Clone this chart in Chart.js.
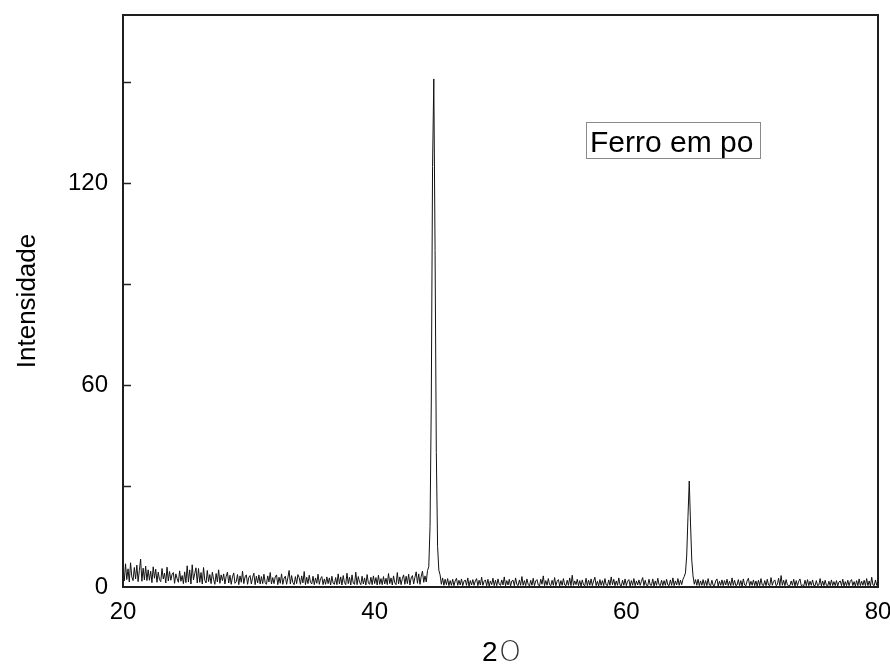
<!DOCTYPE html>
<html>
<head>
<meta charset="utf-8">
<script src="https://cdn.jsdelivr.net/npm/chart.js@4"></script>
<style>
  html, body { margin: 0; padding: 0; background: #fff; }
  #wrap { width: 890px; height: 664px; }
</style>
</head>
<body>
<div id="wrap"><canvas id="chart1" width="890" height="664"></canvas></div>
<script>
// 2-theta grid: 20 to 80, step 0.1
const thetaStart = 20;
const thetaStep = 0.1;

// intensities, one row per degree (10 readings each)
const intensidade = [
  4.5,1.8,6.9,2.2,5.4,1.5,7.2,3.0,1.9,5.8,   // 20
  2.4,6.5,1.6,4.9,8.3,1.7,5.6,2.1,6.2,1.9,   // 21
  5.1,2.0,4.7,1.3,6.0,2.6,5.3,1.4,4.4,2.2,   // 22
  1.6,5.5,2.4,4.1,1.2,5.9,1.8,4.6,2.0,3.8,   // 23
  4.3,1.1,3.9,2.5,1.4,4.8,1.7,3.4,1.0,4.5,   // 24
  1.3,6.3,1.5,5.1,0.9,6.6,2.1,4.0,5.7,1.2,   // 25
  5.5,1.4,4.3,0.9,5.8,2.0,1.2,4.9,1.6,3.7,   // 26
  1.0,4.4,2.3,0.8,4.0,1.5,5.1,1.1,3.6,1.9,   // 27
  3.9,0.9,3.2,4.4,1.2,3.5,0.8,3.0,4.2,1.1,   // 28
  1.6,3.7,0.7,3.3,1.4,4.7,1.0,3.0,3.6,0.8,   // 29
  2.9,3.4,0.9,2.8,4.1,0.7,3.2,1.2,3.6,0.9,   // 30
  3.1,1.0,3.8,1.3,0.8,3.3,1.5,4.3,0.9,2.8,   // 31
  1.0,3.0,3.6,0.7,2.9,1.1,3.9,0.8,2.6,3.2,   // 32
  0.8,2.7,4.9,0.9,3.4,1.3,0.7,3.1,1.0,3.7,   // 33
  2.8,0.8,3.3,1.2,4.6,0.7,2.9,1.0,3.5,1.4,   // 34
  0.9,3.2,0.7,2.7,1.1,3.8,0.8,2.5,3.1,0.7,   // 35
  2.4,0.8,3.0,1.0,2.7,0.6,3.2,1.1,0.8,2.8,   // 36
  0.7,3.9,0.9,3.0,0.6,3.4,1.3,0.7,4.1,1.0,   // 37
  2.9,0.6,3.6,1.1,0.8,4.4,0.7,3.1,1.4,0.7,   // 38
  3.2,0.9,2.7,0.6,3.7,1.2,0.8,2.9,0.7,3.3,   // 39
  1.0,2.8,0.6,3.5,0.8,2.5,0.7,3.1,0.9,2.6,   // 40
  0.7,4.0,1.0,2.7,0.6,3.3,1.2,0.7,4.3,0.9,   // 41
  3.0,0.7,2.5,3.6,0.8,3.2,1.0,3.8,0.6,2.7,   // 42
  3.4,0.9,2.9,4.5,1.1,3.9,0.8,3.2,4.7,1.4,   // 43
  3.3,1.5,4.9,6.0,18,55,125,151,100,40,      // 44 (110 peak)
  12,5.0,3.6,0.8,2.7,0.5,2.3,0.7,2.5,0.4,    // 45
  1.9,0.5,2.3,0.4,1.8,2.6,0.5,2.0,0.6,2.4,   // 46
  0.4,1.7,2.1,0.5,2.7,0.3,1.9,0.6,2.2,0.5,   // 47
  1.8,2.5,0.4,2.0,0.6,2.9,0.5,1.7,2.1,0.4,   // 48
  2.3,0.3,1.8,0.7,2.6,0.4,2.0,0.4,2.4,0.8,   // 49
  0.5,2.1,0.6,3.0,0.4,1.9,0.6,2.3,0.3,1.8,   // 50
  2.0,0.4,2.7,0.7,0.4,2.1,0.5,3.1,0.5,1.9,   // 51
  0.4,2.4,0.8,0.3,2.0,0.5,2.6,0.4,1.8,2.2,   // 52
  0.6,0.3,2.3,0.8,3.3,0.4,1.9,0.5,2.5,0.7,   // 53
  0.4,2.0,0.5,2.8,0.4,1.7,2.2,0.3,1.9,0.5,   // 54
  2.5,0.6,0.4,2.0,0.5,2.7,0.4,3.5,0.5,1.8,   // 55
  0.7,2.3,0.4,1.9,0.3,2.1,0.6,0.4,2.6,0.4,   // 56
  2.0,0.5,2.4,0.4,1.8,2.9,0.4,1.7,0.3,2.2,   // 57
  0.5,1.9,0.4,2.5,0.6,0.4,2.1,0.5,3.0,0.7,   // 58
  2.3,0.4,1.8,0.5,2.7,0.6,0.3,2.0,0.5,2.4,   // 59
  0.4,1.7,2.2,0.3,1.9,0.5,2.5,0.4,1.8,0.6,   // 60
  2.1,0.5,1.7,2.8,0.4,2.0,0.5,0.4,2.3,0.6,   // 61
  0.5,2.4,0.3,1.8,0.5,2.6,0.7,0.4,2.0,0.4,   // 62
  1.9,0.5,2.3,0.6,0.4,2.1,0.5,2.7,0.4,1.8,   // 63
  0.6,2.5,0.5,2.0,0.7,2.3,3.1,4.2,9.5,21,    // 64
  31.5,19,8.0,3.3,0.8,2.2,0.5,2.3,0.4,1.8,   // 65 (200 peak)
  0.5,2.2,0.4,1.9,0.4,2.5,0.6,0.4,2.0,0.5,   // 66
  0.4,1.8,2.4,0.3,1.7,0.5,2.1,0.4,1.9,0.6,   // 67
  2.3,0.4,1.7,0.4,2.7,0.5,2.0,0.4,0.6,2.2,   // 68
  0.4,1.9,0.3,2.4,0.6,0.4,1.8,2.6,0.4,1.7,   // 69
  0.5,2.1,0.4,1.8,0.3,2.0,0.4,2.5,0.6,0.4,   // 70
  1.9,0.4,2.3,0.6,0.4,2.8,0.5,1.7,2.1,0.4,   // 71
  0.7,2.6,0.4,3.4,0.5,2.0,0.4,2.2,0.6,0.4,   // 72
  0.4,1.8,0.5,2.3,0.3,1.9,0.4,1.7,2.4,0.4,   // 73
  0.6,0.3,2.0,0.4,2.2,0.4,1.7,0.5,2.1,0.4,   // 74
  0.4,1.9,0.4,0.6,2.5,0.3,1.8,0.4,2.0,0.5,   // 75
  0.3,1.7,0.4,2.1,0.4,1.6,0.4,1.9,0.3,1.5,   // 76
  1.8,0.4,2.3,0.3,1.6,0.4,2.0,0.4,1.7,2.2,   // 77
  0.4,1.6,0.3,1.9,0.4,2.4,0.4,1.7,0.5,2.0,   // 78
  0.4,2.5,0.4,1.8,0.3,2.9,0.6,0.4,2.1,0.5,   // 79
  1.7                                        // 80
];

const xTicks = [20, 40, 60, 80];
const yLabelTicks = [0, 60, 120];
const legendText = 'Ferro em po';
const yTitle = 'Intensidade';

const FONT = "'Liberation Sans', Arial, sans-serif";

// build points for the line
const pontos = intensidade.map(function(v, i) {
    return { x: +(thetaStart + i * thetaStep).toFixed(2), y: v };
});

// frame, inward ticks, label box and x title
const extras = {
    id: 'extras',
    afterDraw(chart) {
        const ctx = chart.ctx;
        const a = chart.chartArea;
        const ys = chart.scales.y;
        ctx.save();

        // inward ticks on left axis
        ctx.strokeStyle = '#222';
        ctx.lineWidth = 1.5;
        ys.ticks.forEach(function(t) {
            if (t.value > 0 && t.value % 30 === 0) {
                const py = Math.round(ys.getPixelForValue(t.value)) + 0.5;
                ctx.beginPath();
                ctx.moveTo(a.left, py);
                ctx.lineTo(a.left + 8, py);
                ctx.stroke();
            }
        });

        // frame
        ctx.lineWidth = 2;
        ctx.strokeStyle = '#1e1e1e';
        ctx.strokeRect(a.left, a.top, a.right - a.left, a.bottom - a.top);

        // label box
        ctx.lineWidth = 1;
        ctx.strokeStyle = '#8a8a8a';
        ctx.strokeRect(586.5, 122.5, 174, 36);
        ctx.fillStyle = '#000';
        ctx.font = '30px ' + FONT;
        ctx.textBaseline = 'alphabetic';
        ctx.textAlign = 'left';
        ctx.fillText(legendText, 590, 152);

        // x title "2O"
        ctx.font = '28px ' + FONT;
        ctx.fillText('2', 482, 661);
        ctx.font = "200 28px 'DejaVu Sans', sans-serif";
        ctx.fillStyle = '#333';
        ctx.fillText('O', 499, 661);

        ctx.restore();
    }
};

const ctx1 = document.getElementById('chart1').getContext('2d');
const chart1 = new Chart(ctx1, {
    type: 'line',
    data: {
        datasets: [{
            data: pontos,
            borderColor: '#111',
            borderWidth: 1,
            pointRadius: 0,
            tension: 0,
            fill: false
        }]
    },
    options: {
        responsive: false,
        animation: false,
        devicePixelRatio: 1,
        layout: { padding: { top: 15, right: 12, left: 0, bottom: 0 } },
        plugins: {
            legend: { display: false },
            tooltip: { enabled: false }
        },
        scales: {
            x: {
                type: 'linear',
                min: 20,
                max: 80,
                grid: { display: false },
                border: { display: false },
                afterFit: function(s) {
                    s.height = 77;
                    s.paddingLeft = 0;
                    s.paddingRight = 0;
                },
                afterBuildTicks: function(s) {
                    s.ticks = xTicks.map(function(v) { return { value: v }; });
                },
                ticks: {
                    padding: 3,
                    maxRotation: 0,
                    color: '#000',
                    font: { family: FONT, size: 24 }
                }
            },
            y: {
                type: 'linear',
                min: 0,
                max: 170,
                grid: { display: false },
                border: { display: false },
                afterFit: function(s) {
                    s.width = 123;
                    s.paddingTop = 0;
                    s.paddingBottom = 0;
                },
                ticks: {
                    stepSize: 30,
                    padding: 7,
                    color: '#000',
                    font: { family: FONT, size: 24 },
                    callback: function(v) {
                        return yLabelTicks.indexOf(v) >= 0 ? String(v) : '';
                    }
                },
                title: {
                    display: true,
                    text: yTitle,
                    color: '#000',
                    padding: { top: 12, bottom: 0 },
                    font: { family: FONT, size: 26 }
                }
            }
        }
    },
    plugins: [extras]
});
</script>
</body>
</html>
